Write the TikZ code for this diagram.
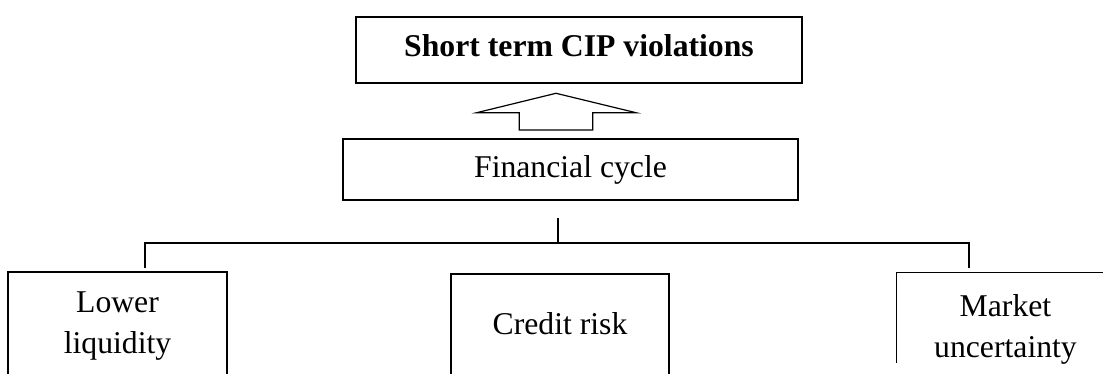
\documentclass[tikz,border=0pt]{standalone}
\usepackage{fontspec}
\setmainfont{Liberation Serif}
\begin{document}
\begin{tikzpicture}[x=1pt,y=-1pt,
  box/.style={draw,line width=1.3pt,inner sep=0pt},
  txt/.style={font=\fontsize{31.7}{41}\selectfont},
  link/.style={line width=1.3pt}]
\useasboundingbox (0,0) rectangle (1103,374);
\clip (0,0) rectangle (1103,374);
% top boxes
\node[box,font=\fontsize{31.7}{41}\selectfont\bfseries,minimum width=446pt,minimum height=66pt,text height=40pt,text depth=26pt] (cip) at (579,50) {Short term CIP violations};
\node[box,txt,minimum width=455pt,minimum height=61pt,text height=39pt,text depth=22pt] (fc) at (570.5,169.5) {Financial cycle};
% block arrow
\draw[line width=1.2pt,line join=miter] (556,93.3) -- (636,112.7) -- (592.7,112.7) -- (592.7,130) -- (519.3,130) -- (519.3,112.7) -- (476.7,112.7) -- cycle;
% bottom boxes
\node[box,minimum width=219pt,minimum height=204pt] (ll) at (117.5,374) {};
\node[box,minimum width=218pt,minimum height=200pt] (cr) at (560,374) {};
\node[inner sep=0pt,minimum width=216pt,minimum height=200pt] (mu) at (1005,373) {};
\draw[link] (mu.north east) -- (mu.north west) -- ++(0,90);
\node[txt,align=center] (llt) at (117.5,326.2) {Lower\\liquidity};
\node[txt] (crt) at (560,323.2) {Credit risk};
\node[txt,align=center] (mut) at (1005.5,329.3) {Market\\uncertainty};
% connectors
\coordinate (fcb) at (558,218);
\coordinate (hub) at (558,243);
\coordinate (lt) at (145,243);
\coordinate (rt) at (969,243);
\coordinate (lte) at (145,268);
\coordinate (rte) at (969,268);
\draw[link] (fcb) -- (hub);
\draw[link] (lte) -- (lt) -- (rt) -- (rte);
\end{tikzpicture}
\end{document}
